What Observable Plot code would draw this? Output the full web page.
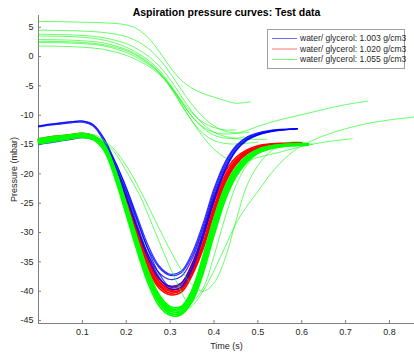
<!DOCTYPE html>
<html><head><meta charset="utf-8">
<script src="https://cdn.jsdelivr.net/npm/d3@7"></script>
<script src="https://cdn.jsdelivr.net/npm/@observablehq/plot@0.6"></script>
<style>
body{margin:0;background:#fff;}
#wrap{position:relative;width:414px;height:357px;font-family:"Liberation Sans",Arial,sans-serif;}
</style></head><body><div id="wrap"></div>
<script>
const title = "Aspiration pressure curves: Test data";
const xLabel = "Time (s)";
const yLabel = "Pressure (mbar)";
const legendLabels = ["water/ glycerol: 1.003 g/cm3", "water/ glycerol: 1.020 g/cm3", "water/ glycerol: 1.055 g/cm3"];
const legendColors = ["#0000ff", "#ff0000", "#00ff00"];
const xTicks = [0.1, 0.2, 0.3, 0.4, 0.5, 0.6, 0.7, 0.8];
const yTicks = [5, 0, -5, -10, -15, -20, -25, -30, -35, -40, -45];
const xDomain = [0, 0.857];
const yDomain = [-45.5, 7];

// sample times of the main curves
const blueTime  = [0,0.025,0.05,0.075,0.1,0.125,0.15,0.175,0.2,0.225,0.25,0.275,0.3,0.325,0.35,0.375,0.4,0.425,0.45,0.475,0.5,0.525,0.55,0.575,0.59];
const redTime   = [0,0.025,0.05,0.075,0.1,0.125,0.15,0.175,0.2,0.225,0.25,0.275,0.3,0.325,0.35,0.375,0.4,0.425,0.45,0.475,0.5,0.525,0.55,0.575,0.60];
const greenTime = [0,0.025,0.05,0.075,0.1,0.125,0.15,0.175,0.2,0.225,0.25,0.275,0.3,0.325,0.35,0.375,0.4,0.425,0.45,0.475,0.5,0.525,0.55,0.575,0.615];

// 1.003 g/cm3 (blue)
const blueCurves = [
  [-11.9,-11.6,-11.35,-11.15,-11.0,-11.6,-14.0,-18.0,-22.3,-27.3,-32.2,-35.7,-37.1,-36.6,-33.5,-28.5,-22.5,-18.0,-15.2,-13.7,-13.0,-12.6,-12.4,-12.3,-12.3],
  [-11.8,-11.5,-11.3,-11.1,-11.0,-11.7,-14.2,-18.5,-23.0,-28.0,-32.8,-36.0,-37.3,-36.9,-34.0,-29.0,-23.0,-18.3,-15.4,-13.8,-13.1,-12.7,-12.5,-12.4,-12.3],
  [-12.0,-11.7,-11.5,-11.3,-11.2,-11.9,-14.6,-19.2,-24.0,-29.2,-33.8,-36.9,-38.0,-37.5,-34.5,-29.5,-23.5,-18.7,-15.6,-14.0,-13.2,-12.8,-12.5,-12.4,-12.3],
  [-14.9,-14.6,-14.3,-14.0,-13.7,-13.9,-15.0,-18.0,-22.5,-27.8,-33.0,-37.0,-39.3,-39.0,-36.0,-30.5,-24.5,-19.3,-16.0,-14.2,-13.3,-12.8,-12.5,-12.4,-12.3],
  [-15.0,-14.7,-14.4,-14.1,-13.8,-14.1,-15.4,-18.6,-23.3,-28.7,-33.8,-37.6,-39.6,-39.3,-36.3,-30.8,-24.7,-19.5,-16.1,-14.3,-13.4,-12.9,-12.6,-12.4,-12.3],
  [-14.8,-14.5,-14.2,-13.9,-13.6,-13.8,-15.2,-18.9,-23.8,-29.3,-34.4,-37.9,-39.1,-38.6,-35.5,-30.2,-24.2,-19.1,-15.9,-14.1,-13.3,-12.8,-12.5,-12.4,-12.3]
];

// 1.020 g/cm3 (red)
const redCurves = [
  [-14.0,-13.7,-13.5,-13.3,-13.1,-13.5,-15.0,-19.0,-24.0,-29.4,-34.3,-37.9,-39.2,-38.7,-35.3,-30.2,-24.0,-19.7,-17.2,-15.9,-15.2,-14.9,-14.8,-14.7,-14.7],
  [-14.2,-13.9,-13.7,-13.5,-13.3,-13.7,-15.3,-19.5,-24.5,-30.0,-35.0,-38.5,-39.8,-39.3,-36.0,-31.0,-24.8,-20.3,-17.6,-16.1,-15.4,-15.1,-14.95,-14.9,-14.9],
  [-14.3,-14.0,-13.8,-13.6,-13.4,-13.8,-15.6,-20.0,-25.2,-30.8,-35.8,-39.1,-40.3,-39.8,-36.6,-31.8,-25.6,-20.8,-17.9,-16.3,-15.5,-15.2,-15.0,-14.9,-14.9],
  [-14.1,-13.8,-13.6,-13.4,-13.2,-13.6,-15.4,-19.8,-24.9,-30.5,-35.6,-38.9,-40.0,-39.7,-36.8,-32.2,-26.2,-21.2,-18.1,-16.4,-15.6,-15.2,-15.0,-14.9,-14.8],
  [-14.4,-14.1,-13.9,-13.7,-13.5,-13.9,-15.8,-20.4,-25.6,-31.2,-36.2,-39.5,-40.6,-40.2,-37.3,-32.8,-26.8,-21.6,-18.4,-16.6,-15.7,-15.3,-15.1,-15.0,-14.9],
  [-14.2,-13.9,-13.7,-13.5,-13.3,-13.7,-15.2,-19.3,-24.3,-29.8,-34.8,-38.3,-39.6,-39.4,-36.9,-32.5,-26.0,-20.9,-17.9,-16.3,-15.5,-15.1,-14.95,-14.9,-14.85]
];

// 1.055 g/cm3 (green), main bundle
const greenCurves = [
  [-14.0,-13.7,-13.5,-13.3,-13.1,-13.5,-15.0,-19.2,-25.0,-31.0,-36.5,-40.6,-42.6,-42.6,-39.8,-34.0,-27.5,-22.2,-18.9,-16.9,-15.8,-15.3,-15.0,-14.9,-14.9],
  [-14.3,-14.0,-13.7,-13.5,-13.3,-13.7,-15.3,-19.7,-25.6,-31.6,-37.1,-41.1,-43.1,-43.0,-40.1,-34.6,-28.0,-22.6,-19.2,-17.1,-16.0,-15.4,-15.1,-15.0,-14.95],
  [-14.5,-14.2,-13.9,-13.6,-13.4,-13.8,-15.5,-20.0,-26.0,-32.0,-37.5,-41.5,-43.4,-43.3,-40.5,-35.0,-28.5,-23.0,-19.5,-17.3,-16.1,-15.5,-15.2,-15.05,-15.0],
  [-14.7,-14.4,-14.1,-13.8,-13.6,-14.0,-15.8,-20.4,-26.5,-32.6,-38.1,-42.0,-43.8,-43.7,-41.0,-35.6,-29.1,-23.5,-19.8,-17.5,-16.2,-15.6,-15.3,-15.1,-15.05],
  [-14.9,-14.6,-14.3,-14.0,-13.8,-14.2,-16.1,-20.9,-27.0,-33.2,-38.7,-42.5,-44.1,-44.0,-41.5,-36.3,-29.8,-24.0,-20.1,-17.7,-16.3,-15.7,-15.4,-15.2,-15.1],
  [-14.4,-14.1,-13.8,-13.6,-13.4,-13.7,-15.2,-19.4,-25.3,-31.4,-37.0,-41.2,-43.3,-43.6,-41.4,-36.5,-30.0,-24.2,-20.2,-17.8,-16.4,-15.7,-15.3,-15.1,-15.0],
  [-14.6,-14.3,-14.0,-13.7,-13.5,-13.9,-15.7,-20.3,-26.4,-32.4,-37.8,-41.8,-43.7,-43.9,-41.8,-37.0,-30.5,-24.6,-20.5,-18.0,-16.5,-15.8,-15.4,-15.2,-15.1],
  [-14.2,-13.9,-13.6,-13.4,-13.2,-13.6,-15.1,-19.5,-25.4,-31.3,-36.8,-40.9,-42.9,-42.8,-39.9,-34.3,-27.7,-22.4,-19.0,-17.0,-15.9,-15.3,-15.1,-14.95,-14.9]
];

// 1.055 g/cm3 (green), runs starting above zero: [time, pressure]
const greenHighRuns = [
  [[0,6.0],[0.05,5.95],[0.1,5.85],[0.15,5.75],[0.2,5.4],[0.225,4.7],[0.25,3.2],[0.275,0.9],[0.3,-1.8],[0.325,-4.0],[0.35,-5.4],[0.375,-6.3],[0.4,-6.9],[0.425,-7.5],[0.45,-7.95],[0.483,-7.7]],
  [[0,4.5],[0.05,4.45],[0.1,4.35],[0.15,4.1],[0.2,3.4],[0.225,2.6],[0.25,1.4],[0.275,-0.4],[0.3,-2.8],[0.325,-5.6],[0.35,-8.2],[0.375,-10.3],[0.4,-11.8],[0.425,-12.7],[0.45,-13.0],[0.475,-12.6],[0.5,-11.9],[0.525,-11.3],[0.55,-10.8],[0.6,-9.9],[0.65,-9.0],[0.7,-8.2],[0.75,-7.6]],
  [[0,3.8],[0.05,3.75],[0.1,3.6],[0.15,3.2],[0.2,2.2],[0.225,1.3],[0.25,0.1],[0.275,-1.6],[0.3,-3.9],[0.325,-6.7],[0.35,-9.4],[0.375,-11.5],[0.4,-12.9],[0.425,-13.6],[0.45,-14.0],[0.475,-14.1],[0.52,-14.1]],
  [[0,3.5],[0.05,3.45],[0.1,3.3],[0.15,2.8],[0.2,1.6],[0.225,0.6],[0.25,-0.6],[0.275,-2.3],[0.3,-4.7],[0.325,-7.6],[0.35,-10.2],[0.375,-12.0],[0.4,-12.9],[0.425,-13.2],[0.45,-13.1],[0.48,-12.9]],
  [[0,2.9],[0.05,2.85],[0.1,2.7],[0.15,2.3],[0.2,1.2],[0.225,0.3],[0.25,-0.9],[0.275,-2.6],[0.3,-5.0],[0.325,-8.0],[0.35,-11.0],[0.375,-13.7],[0.4,-15.8],[0.425,-17.2],[0.45,-17.9],[0.475,-17.8],[0.5,-17.2],[0.55,-16.3],[0.6,-15.3],[0.65,-14.6],[0.715,-14.0]],
  [[0,2.6],[0.05,2.55],[0.1,2.4],[0.15,2.0],[0.2,1.0],[0.225,0.1],[0.25,-1.1],[0.275,-2.7],[0.3,-4.9],[0.325,-7.4],[0.35,-9.6],[0.375,-11.2],[0.4,-12.1],[0.425,-12.5],[0.45,-12.5]],
  [[0,2.4],[0.05,2.35],[0.1,2.2],[0.15,1.8],[0.2,0.7],[0.225,-0.2],[0.25,-1.3],[0.275,-2.8],[0.3,-5.2],[0.325,-8.2],[0.35,-11.0],[0.375,-13.1],[0.4,-14.3],[0.425,-14.8],[0.45,-14.9],[0.5,-14.6]],
  [[0,1.8],[0.05,1.75],[0.1,1.6],[0.15,1.2],[0.2,0.2],[0.225,-0.6],[0.25,-1.6],[0.275,-3.0],[0.3,-5.1],[0.325,-7.7],[0.35,-10.2],[0.375,-12.2],[0.4,-13.4],[0.425,-13.9],[0.45,-13.9],[0.47,-13.7]]
];

// 1.055 g/cm3 (green), delayed runs: [time, pressure]
const greenLateRuns = [
  [[0,-14.3],[0.05,-13.8],[0.1,-13.4],[0.125,-13.6],[0.15,-14.4],[0.175,-16.0],[0.2,-18.6],[0.225,-21.8],[0.25,-25.5],[0.275,-29.3],[0.3,-33.0],[0.325,-36.3],[0.35,-38.9],[0.375,-40.0],[0.4,-38.6],[0.425,-34.5],[0.45,-28.0],[0.475,-22.0],[0.5,-18.6],[0.525,-16.4],[0.55,-15.2],[0.575,-14.6],[0.6,-14.6],[0.625,-15.0]],
  [[0,-14.4],[0.05,-13.9],[0.1,-13.4],[0.134,-13.5],[0.15,-14.5],[0.175,-16.5],[0.2,-19.5],[0.233,-24.0],[0.25,-27.0],[0.275,-31.5],[0.3,-36.0],[0.325,-40.0],[0.34,-41.9],[0.35,-41.8],[0.375,-39.5],[0.4,-34.0],[0.425,-27.5],[0.45,-22.0],[0.475,-18.5],[0.5,-16.5],[0.525,-15.5],[0.55,-15.2],[0.6,-15.1]],
  [[0,-14.6],[0.05,-14.0],[0.1,-13.5],[0.125,-13.9],[0.15,-15.6],[0.175,-20.0],[0.2,-25.8],[0.225,-31.6],[0.25,-36.8],[0.275,-40.6],[0.3,-42.8],[0.325,-43.4],[0.35,-42.5],[0.375,-40.0],[0.4,-36.5],[0.425,-32.5],[0.45,-28.5],[0.475,-25.5],[0.5,-23.0],[0.525,-20.4],[0.55,-18.2],[0.575,-16.5],[0.6,-15.2],[0.65,-13.5],[0.7,-12.3],[0.75,-11.4],[0.8,-10.8],[0.857,-10.3]]
];

function fromGrid(curves, times) {
  const out = [];
  curves.forEach((vals, id) => vals.forEach((p, j) => out.push({id, t: times[j], p})));
  return out;
}
function fromPairs(curves) {
  const out = [];
  curves.forEach((pts, id) => pts.forEach(([t, p]) => out.push({id, t, p})));
  return out;
}

const blueRows = fromGrid(blueCurves, blueTime);
const redRows = fromGrid(redCurves, redTime);
const greenRows = fromGrid(greenCurves, greenTime);
const greenHighRows = fromPairs(greenHighRuns);
const greenLateRows = fromPairs(greenLateRuns);

const axisColor = "#808080";
const plot = Plot.plot({
  width: 414, height: 357,
  marginLeft: 38, marginRight: 0, marginTop: 15, marginBottom: 34,
  x: {domain: xDomain},
  y: {domain: yDomain},
  style: {fontFamily: "'Liberation Sans', Arial, sans-serif", fontSize: "9px", color: "#262626", background: "white"},
  marks: [
    Plot.ruleX([xDomain[0]], {stroke: axisColor}),
    Plot.ruleY([yDomain[0]], {stroke: axisColor}),
    Plot.tickX(xTicks, {x: d => d, insetTop: 305, stroke: axisColor}),
    Plot.tickY(yTicks, {y: d => d, insetRight: 373, stroke: axisColor}),
    Plot.axisX({ticks: xTicks, tickSize: 0, tickPadding: 5, tickFormat: d => String(d), label: xLabel, labelAnchor: "center", labelOffset: 25, labelArrow: false}),
    Plot.axisY({ticks: yTicks, tickSize: 0, tickPadding: 5, tickFormat: d => String(d), label: yLabel, labelAnchor: "center", labelOffset: 28, labelArrow: false}),
    Plot.line(greenHighRows, {x: "t", y: "p", z: "id", stroke: "#00ff00", strokeWidth: 0.8, strokeOpacity: 0.75, curve: "catmull-rom"}),
    Plot.line(redRows, {x: "t", y: "p", z: "id", stroke: "#ff0000", strokeWidth: 1.6, curve: "catmull-rom"}),
    Plot.line(blueRows, {x: "t", y: "p", z: "id", stroke: "#0000ff", strokeWidth: 1.2, strokeOpacity: 0.8, curve: "catmull-rom"}),
    Plot.line(greenRows, {x: "t", y: "p", z: "id", stroke: "#00ff00", strokeWidth: 1.6, curve: "catmull-rom"}),
    Plot.line(greenLateRows, {x: "t", y: "p", z: "id", stroke: "#00ff00", strokeWidth: 0.8, strokeOpacity: 0.75, curve: "catmull-rom"}),
    Plot.text([title], {text: d => d, frameAnchor: "top", dy: -7, fontWeight: "bold", fontSize: 10.5, fill: "#000"})
  ]
});
const wrap = document.getElementById("wrap");
wrap.appendChild(plot);

// legend box inside the axes, upper right
const leg = d3.select(wrap).append("svg")
  .style("position", "absolute").style("left", "267px").style("top", "29px")
  .attr("width", 139).attr("height", 41)
  .style("font-family", "'Liberation Sans', Arial, sans-serif");
leg.append("rect").attr("x", 0.5).attr("y", 0.5).attr("width", 137).attr("height", 39)
  .attr("fill", "white").attr("stroke", "#a0a0a0");
legendLabels.forEach((lab, i) => {
  const cy = 9.5 + i * 10.5;
  leg.append("line").attr("x1", 5).attr("x2", 30).attr("y1", cy).attr("y2", cy)
    .attr("stroke", legendColors[i]).attr("stroke-width", 0.8).attr("stroke-opacity", 0.7);
  leg.append("text").attr("x", 33).attr("y", cy).attr("dy", "0.35em")
    .attr("font-size", 8.5).attr("fill", "#262626").text(lab);
});
</script></body></html>
